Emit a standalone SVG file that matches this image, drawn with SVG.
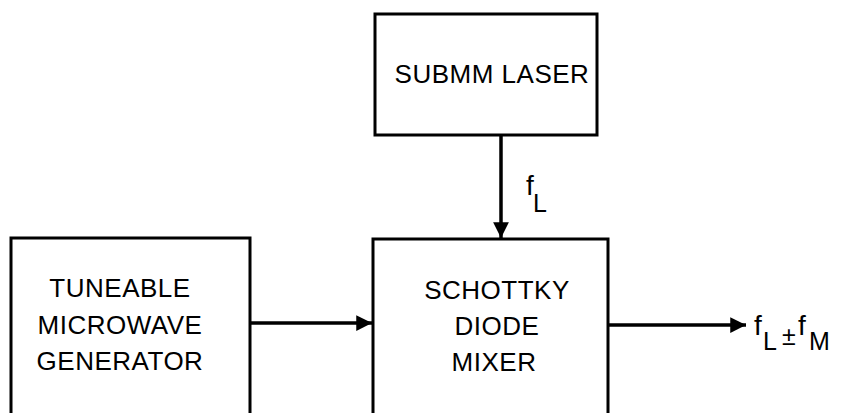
<svg xmlns="http://www.w3.org/2000/svg" width="846" height="413" viewBox="0 0 846 413">
<defs>
<style>
.box{fill:none;stroke:#000;stroke-width:3}
.t{font-family:"Liberation Sans",Arial,sans-serif;font-size:26px;fill:#000;text-anchor:middle;letter-spacing:0.5px}
.lbl{font-family:"Liberation Sans",Arial,sans-serif;font-size:28px;fill:#000}
.sub{font-family:"Liberation Sans",Arial,sans-serif;font-size:25px;fill:#000}
.con{stroke:#000;stroke-width:3.5;fill:none}
</style>
<marker id="ah" viewBox="0 0 10 10" refX="10" refY="5" markerWidth="5.5" markerHeight="4.5" markerUnits="strokeWidth" orient="auto">
<path d="M0,0 L10,5 L0,10 Z" fill="#000"/>
</marker>
</defs>
<rect width="846" height="413" fill="#fff"/>
<g id="laser">
<path class="box" d="M375,135 V14 H597 V135 Z"/>
<text class="t" x="492" y="83">SUBMM LASER</text>
</g>
<g id="generator">
<path class="box" d="M11,415 V238 H250 V415"/>
<text class="t" x="120" y="297">TUNEABLE</text>
<text class="t" x="120" y="334">MICROWAVE</text>
<text class="t" x="120" y="370">GENERATOR</text>
</g>
<g id="mixer">
<path class="box" d="M373,415 V239 H608 V415"/>
<text class="t" x="497" y="299">SCHOTTKY</text>
<text class="t" x="497" y="335">DIODE</text>
<text class="t" x="494" y="371">MIXER</text>
</g>
<g id="connectors">
<line class="con" x1="501" y1="135" x2="501" y2="238" marker-end="url(#ah)"/>
<line class="con" x1="250" y1="323" x2="372" y2="323" marker-end="url(#ah)"/>
<line class="con" x1="608" y1="325" x2="746" y2="325" marker-end="url(#ah)"/>
</g>
<g id="labels">
<text class="lbl" x="526" y="195">f</text>
<text class="sub" x="533" y="212">L</text>
<text class="lbl" x="754" y="335">f</text>
<text class="sub" x="763" y="350">L</text>
<text class="sub" x="782" y="345" font-size="22">±</text>
<text class="lbl" x="798" y="335">f</text>
<text class="sub" x="809" y="350">M</text>
</g>
</svg>
